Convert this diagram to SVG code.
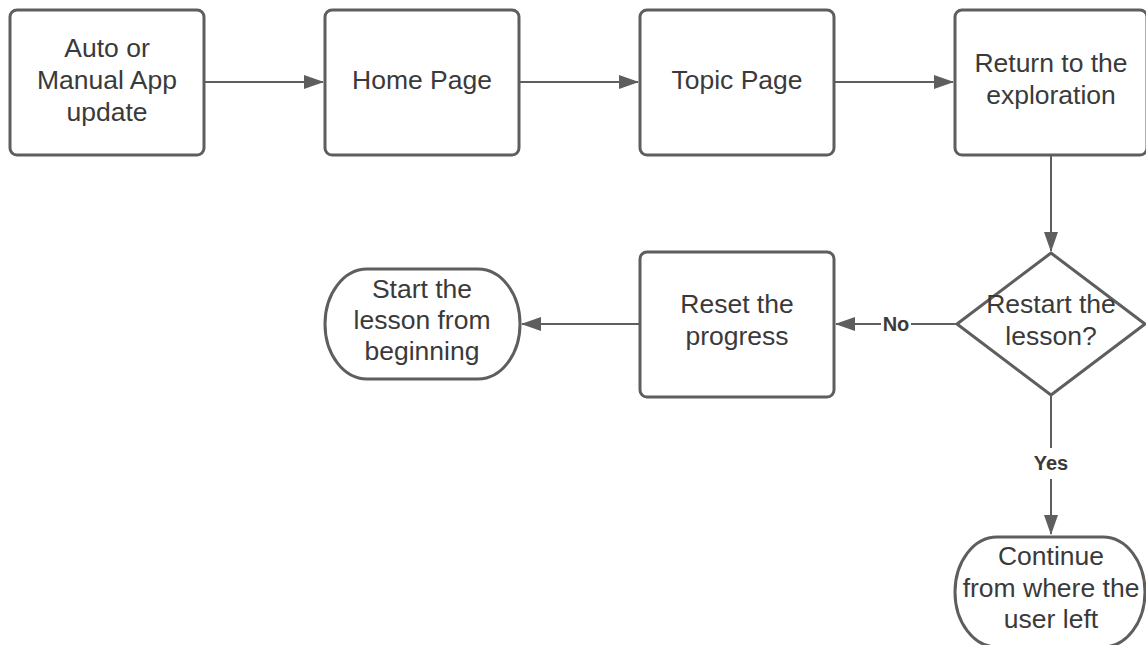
<svg xmlns="http://www.w3.org/2000/svg" width="1146" height="645" viewBox="0 0 1146 645">
  <defs>
    <marker id="arrow" viewBox="0 0 20 14" refX="19" refY="7" markerWidth="20" markerHeight="14" markerUnits="userSpaceOnUse" orient="auto">
      <path d="M0,0 L20,7 L0,14 Z" fill="#5e5e5e"/>
    </marker>
  </defs>
  <style>
    .shape { fill: #ffffff; stroke: #5e5e5e; stroke-width: 3; }
    .label { font-family: "Liberation Sans", Arial, sans-serif; font-size: 26.5px; fill: #3a3a3a; text-anchor: middle; }
    .edge { fill: none; stroke: #5e5e5e; stroke-width: 2; }
    .edge-label { font-family: "Liberation Sans", Arial, sans-serif; font-size: 20px; font-weight: bold; fill: #3a3a3a; text-anchor: middle; }
  </style>
  <rect width="1146" height="645" fill="#ffffff"/>

  <g id="connectors">
    <line class="edge" x1="205" y1="82" x2="323" y2="82" marker-end="url(#arrow)"/>
    <line class="edge" x1="520" y1="82" x2="638" y2="82" marker-end="url(#arrow)"/>
    <line class="edge" x1="835" y1="82" x2="953" y2="82" marker-end="url(#arrow)"/>
    <line class="edge" x1="1051" y1="156" x2="1051" y2="251" marker-end="url(#arrow)"/>
    <line class="edge" x1="957" y1="324" x2="911" y2="324"/>
    <line class="edge" x1="881" y1="324" x2="836" y2="324" marker-end="url(#arrow)"/>
    <text class="edge-label" x="896" y="331">No</text>
    <line class="edge" x1="639" y1="324" x2="522" y2="324" marker-end="url(#arrow)"/>
    <line class="edge" x1="1051" y1="396" x2="1051" y2="448"/>
    <line class="edge" x1="1051" y1="479" x2="1051" y2="534" marker-end="url(#arrow)"/>
    <text class="edge-label" x="1051" y="470">Yes</text>
  </g>

  <g id="node-app-update">
    <rect class="shape" x="10" y="10" width="194" height="145" rx="7"/>
    <text class="label" x="107" y="57">Auto or</text>
    <text class="label" x="107" y="89">Manual App</text>
    <text class="label" x="107" y="121">update</text>
  </g>

  <g id="node-home">
    <rect class="shape" x="325" y="10" width="194" height="145" rx="7"/>
    <text class="label" x="422" y="89">Home Page</text>
  </g>

  <g id="node-topic">
    <rect class="shape" x="640" y="10" width="194" height="145" rx="7"/>
    <text class="label" x="737" y="89">Topic Page</text>
  </g>

  <g id="node-return">
    <rect class="shape" x="955" y="10" width="192" height="145" rx="7"/>
    <text class="label" x="1051" y="72">Return to the</text>
    <text class="label" x="1051" y="104">exploration</text>
  </g>

  <g id="node-restart">
    <path class="shape" d="M1051,253 L1145,324 L1051,395 L957,324 Z" stroke-linejoin="round"/>
    <text class="label" x="1051" y="313">Restart the</text>
    <text class="label" x="1051" y="345">lesson?</text>
  </g>

  <g id="node-reset">
    <rect class="shape" x="640" y="252" width="194" height="145" rx="7"/>
    <text class="label" x="737" y="313">Reset the</text>
    <text class="label" x="737" y="345">progress</text>
  </g>

  <g id="node-start">
    <rect class="shape" x="325" y="269" width="195" height="110" rx="42" ry="55"/>
    <text class="label" x="422" y="298">Start the</text>
    <text class="label" x="422" y="329">lesson from</text>
    <text class="label" x="422" y="360">beginning</text>
  </g>

  <g id="node-continue">
    <rect class="shape" x="955" y="537" width="190" height="110" rx="42" ry="55"/>
    <text class="label" x="1051" y="565">Continue</text>
    <text class="label" x="1051" y="597">from where the</text>
    <text class="label" x="1051" y="628">user left</text>
  </g>
</svg>
